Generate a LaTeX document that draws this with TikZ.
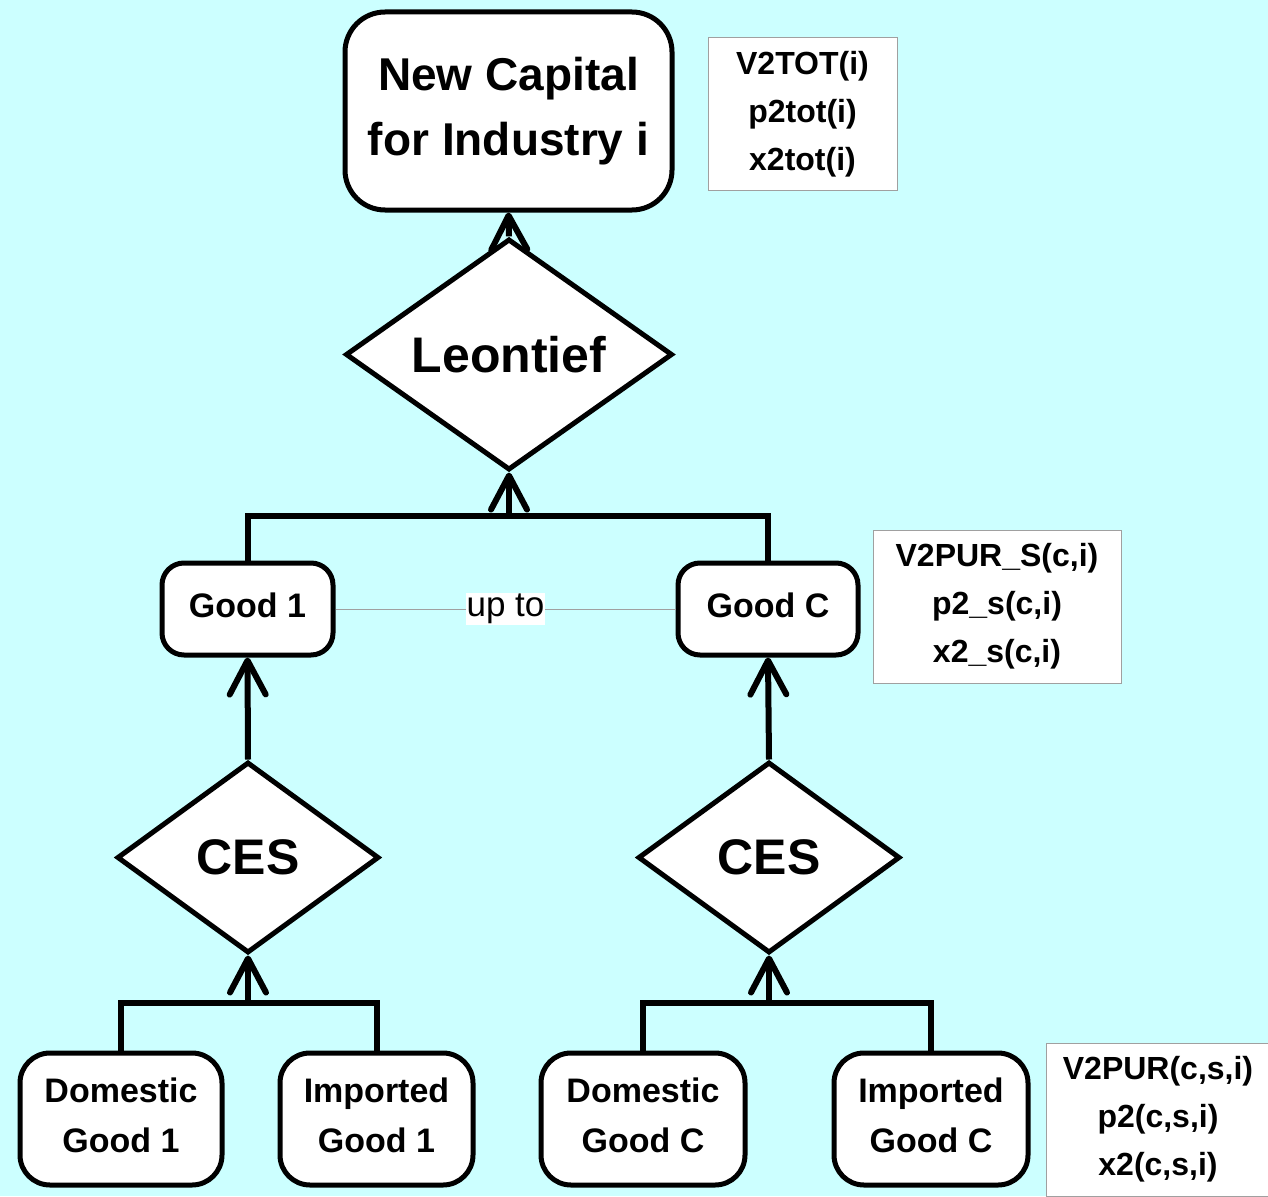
\documentclass[tikz,border=0pt]{standalone}
\usepackage{fontspec}
\setmainfont{Liberation Sans}
\usetikzlibrary{shapes.geometric,arrows.meta}
\definecolor{bgc}{RGB}{204,255,255}
\definecolor{infoline}{RGB}{160,160,160}
\begin{document}
\begin{tikzpicture}[x=1pt,y=-1pt,
  box/.style={draw=black,line width=5pt,fill=white,rounded corners=#1,inner sep=0pt,align=center,font=\bfseries\fontsize{34}{50}\selectfont},
  dia/.style={draw=black,line width=5pt,fill=white,diamond,inner sep=0pt,font=\bfseries\fontsize{50}{56}\selectfont},
  info/.style={draw=infoline,line width=1pt,fill=white,inner sep=0pt,align=center,font=\bfseries\fontsize{32}{48}\selectfont},
  conn/.style={line width=6pt,draw=black},
  arr/.style={conn,-{Straight Barb[length=34pt,width=36pt,line width=6pt,round]}}]
\fill[bgc] (0,0) rectangle (1268,1196);
\useasboundingbox (0,0) rectangle (1268,1196);
% top
\node[box=40pt,minimum width=327pt,minimum height=198pt,font=\bfseries\fontsize{46}{65}\selectfont] (cap) at (508.5,111) {New Capital\\for Industry i};
\node[info,minimum width=189pt,minimum height=152pt] (i1) at (802.5,114) {V2TOT(i)\\p2tot(i)\\x2tot(i)\vphantom{p}};
\node[dia,minimum width=327pt,minimum height=225pt] (leon) at (509,354.5) {Leontief};
% goods
\node[box=22pt,minimum width=171pt,minimum height=92pt] (g1) at (247.5,609) {Good 1\vphantom{p}};
\node[box=22pt,minimum width=180pt,minimum height=92pt] (gc) at (768,609) {Good C\vphantom{p}};
\node[info,minimum width=248pt,minimum height=153pt] (i2) at (997,606.5) {V2PUR\_S(c,i)\\p2\_s(c,i)\\x2\_s(c,i)};
\draw[infoline,line width=1pt] (g1.east) -- node[fill=white,inner sep=1pt,text=black,font=\fontsize{35}{38}\selectfont] (upto) {up to} (gc.west);
% CES
\node[dia,minimum width=262pt,minimum height=191pt] (ces1) at (248,857.5) {CES};
\node[dia,minimum width=262pt,minimum height=191pt] (ces2) at (769,857.5) {CES};
% bottom
\node[box=30pt,minimum width=202pt,minimum height=132pt] (d1) at (121,1119) {Domestic\\Good 1\vphantom{p}};
\node[box=30pt,minimum width=193pt,minimum height=132pt] (m1) at (376.5,1119) {Imported\\Good 1\vphantom{p}};
\node[box=30pt,minimum width=204pt,minimum height=132pt] (d2) at (643,1119) {Domestic\\Good C\vphantom{p}};
\node[box=30pt,minimum width=194pt,minimum height=132pt] (m2) at (931,1119) {Imported\\Good C\vphantom{p}};
\node[info,minimum width=224pt,minimum height=153pt] (i3) at (1158,1119.5) {V2PUR(c,s,i)\\p2(c,s,i)\\x2(c,s,i)};
% connectors
\coordinate (j0) at (509,516);
\coordinate (j1) at (248,1003);
\coordinate (j2) at (769,1003);
\draw[arr] (leon.north) -- (cap.south);
\draw[conn] (g1.north) |- (gc.north |- j0) -- (gc.north);
\draw[arr] (j0) -- (leon.south);
\draw[arr] (ces1.north) -- (g1.south);
\draw[arr] (ces2.north) -- (gc.south);
\draw[conn] (d1.north) |- (m1.north |- j1) -- (m1.north);
\draw[arr] (j1) -- (ces1.south);
\draw[conn] (d2.north) |- (m2.north |- j2) -- (m2.north);
\draw[arr] (j2) -- (ces2.south);
\end{tikzpicture}
\end{document}
